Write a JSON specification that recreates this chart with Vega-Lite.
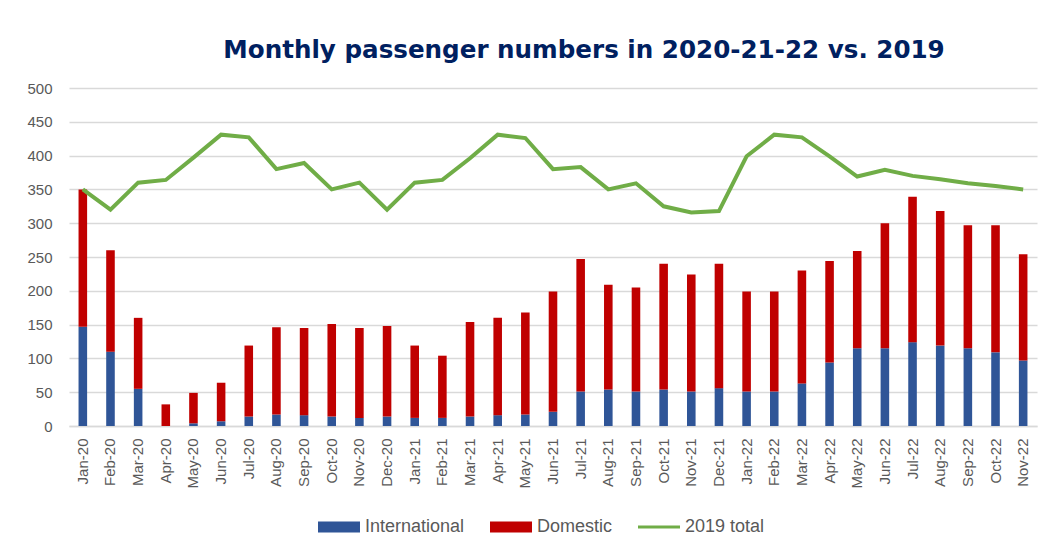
{
  "$schema": "https://vega.github.io/schema/vega-lite/v6.json",
  "autosize": {"type": "none"},
  "width": 968,
  "height": 338,
  "padding": {"left": 69, "top": 88, "right": 9, "bottom": 122},
  "background": "white",
  "title": {
    "text": "Monthly passenger numbers in 2020-21-22 vs. 2019",
    "font": "DejaVu Sans",
    "fontSize": 24.6,
    "fontWeight": "bold",
    "color": "#002060",
    "anchor": "middle",
    "dx": 31,
    "offset": 17
  },
  "config": {
    "view": {"stroke": null},
    "axis": {"labelFont": "Liberation Sans", "labelColor": "#595959", "titleFont": "Liberation Sans"},
    "axisY": {
      "values": [0, 50, 100, 150, 200, 250, 300, 350, 400, 450, 500],
      "labelOverlap": false,
      "labelFontSize": 15,
      "labelPadding": 17,
      "ticks": false,
      "domain": false,
      "gridColor": "#D9D9D9",
      "gridWidth": 1.5
    },
    "legend": {"labelFont": "Liberation Sans"}
  },
  "datasets": {
    "bars": [
      {"month": "Jan-20", "type": "International", "value": 147}, {"month": "Jan-20", "type": "Domestic", "value": 203},
      {"month": "Feb-20", "type": "International", "value": 110}, {"month": "Feb-20", "type": "Domestic", "value": 150},
      {"month": "Mar-20", "type": "International", "value": 55}, {"month": "Mar-20", "type": "Domestic", "value": 105},
      {"month": "Apr-20", "type": "International", "value": 0}, {"month": "Apr-20", "type": "Domestic", "value": 32},
      {"month": "May-20", "type": "International", "value": 4}, {"month": "May-20", "type": "Domestic", "value": 45},
      {"month": "Jun-20", "type": "International", "value": 7}, {"month": "Jun-20", "type": "Domestic", "value": 57},
      {"month": "Jul-20", "type": "International", "value": 14}, {"month": "Jul-20", "type": "Domestic", "value": 105},
      {"month": "Aug-20", "type": "International", "value": 17}, {"month": "Aug-20", "type": "Domestic", "value": 129},
      {"month": "Sep-20", "type": "International", "value": 16}, {"month": "Sep-20", "type": "Domestic", "value": 129},
      {"month": "Oct-20", "type": "International", "value": 14}, {"month": "Oct-20", "type": "Domestic", "value": 137},
      {"month": "Nov-20", "type": "International", "value": 12}, {"month": "Nov-20", "type": "Domestic", "value": 133},
      {"month": "Dec-20", "type": "International", "value": 14}, {"month": "Dec-20", "type": "Domestic", "value": 134},
      {"month": "Jan-21", "type": "International", "value": 12}, {"month": "Jan-21", "type": "Domestic", "value": 107},
      {"month": "Feb-21", "type": "International", "value": 12}, {"month": "Feb-21", "type": "Domestic", "value": 92},
      {"month": "Mar-21", "type": "International", "value": 14}, {"month": "Mar-21", "type": "Domestic", "value": 140},
      {"month": "Apr-21", "type": "International", "value": 16}, {"month": "Apr-21", "type": "Domestic", "value": 144},
      {"month": "May-21", "type": "International", "value": 17}, {"month": "May-21", "type": "Domestic", "value": 151},
      {"month": "Jun-21", "type": "International", "value": 21}, {"month": "Jun-21", "type": "Domestic", "value": 178},
      {"month": "Jul-21", "type": "International", "value": 51}, {"month": "Jul-21", "type": "Domestic", "value": 196},
      {"month": "Aug-21", "type": "International", "value": 54}, {"month": "Aug-21", "type": "Domestic", "value": 155},
      {"month": "Sep-21", "type": "International", "value": 51}, {"month": "Sep-21", "type": "Domestic", "value": 154},
      {"month": "Oct-21", "type": "International", "value": 54}, {"month": "Oct-21", "type": "Domestic", "value": 186},
      {"month": "Nov-21", "type": "International", "value": 51}, {"month": "Nov-21", "type": "Domestic", "value": 173},
      {"month": "Dec-21", "type": "International", "value": 56}, {"month": "Dec-21", "type": "Domestic", "value": 184},
      {"month": "Jan-22", "type": "International", "value": 51}, {"month": "Jan-22", "type": "Domestic", "value": 148},
      {"month": "Feb-22", "type": "International", "value": 51}, {"month": "Feb-22", "type": "Domestic", "value": 148},
      {"month": "Mar-22", "type": "International", "value": 63}, {"month": "Mar-22", "type": "Domestic", "value": 167},
      {"month": "Apr-22", "type": "International", "value": 94}, {"month": "Apr-22", "type": "Domestic", "value": 150},
      {"month": "May-22", "type": "International", "value": 115}, {"month": "May-22", "type": "Domestic", "value": 144},
      {"month": "Jun-22", "type": "International", "value": 115}, {"month": "Jun-22", "type": "Domestic", "value": 185},
      {"month": "Jul-22", "type": "International", "value": 124}, {"month": "Jul-22", "type": "Domestic", "value": 215},
      {"month": "Aug-22", "type": "International", "value": 119}, {"month": "Aug-22", "type": "Domestic", "value": 199},
      {"month": "Sep-22", "type": "International", "value": 115}, {"month": "Sep-22", "type": "Domestic", "value": 182},
      {"month": "Oct-22", "type": "International", "value": 109}, {"month": "Oct-22", "type": "Domestic", "value": 188},
      {"month": "Nov-22", "type": "International", "value": 97}, {"month": "Nov-22", "type": "Domestic", "value": 157}
    ],
    "line": [
      {"month": "Jan-20", "total2019": 350}, {"month": "Feb-20", "total2019": 320}, {"month": "Mar-20", "total2019": 360},
      {"month": "Apr-20", "total2019": 364}, {"month": "May-20", "total2019": 397}, {"month": "Jun-20", "total2019": 431},
      {"month": "Jul-20", "total2019": 427}, {"month": "Aug-20", "total2019": 380}, {"month": "Sep-20", "total2019": 389},
      {"month": "Oct-20", "total2019": 350}, {"month": "Nov-20", "total2019": 360}, {"month": "Dec-20", "total2019": 320},
      {"month": "Jan-21", "total2019": 360}, {"month": "Feb-21", "total2019": 364}, {"month": "Mar-21", "total2019": 396},
      {"month": "Apr-21", "total2019": 431}, {"month": "May-21", "total2019": 426}, {"month": "Jun-21", "total2019": 380},
      {"month": "Jul-21", "total2019": 383}, {"month": "Aug-21", "total2019": 350}, {"month": "Sep-21", "total2019": 359},
      {"month": "Oct-21", "total2019": 325}, {"month": "Nov-21", "total2019": 316}, {"month": "Dec-21", "total2019": 318},
      {"month": "Jan-22", "total2019": 399}, {"month": "Feb-22", "total2019": 431}, {"month": "Mar-22", "total2019": 427},
      {"month": "Apr-22", "total2019": 399}, {"month": "May-22", "total2019": 369}, {"month": "Jun-22", "total2019": 379},
      {"month": "Jul-22", "total2019": 370}, {"month": "Aug-22", "total2019": 365}, {"month": "Sep-22", "total2019": 359},
      {"month": "Oct-22", "total2019": 355}, {"month": "Nov-22", "total2019": 350}
    ]
  },
  "encoding": {
    "x": {
      "field": "month",
      "type": "nominal",
      "sort": null,
      "title": null,
      "scale": {"paddingInner": 0, "paddingOuter": 0},
      "axis": {
        "labelAngle": -90,
        "labelFontSize": 15,
        "labelPadding": 12,
        "ticks": false,
        "domain": true,
        "domainColor": "#D9D9D9",
        "domainWidth": 1.5,
        "grid": false
      }
    }
  },
  "layer": [
    {
      "data": {"name": "bars"},
      "mark": {"type": "bar", "width": {"band": 0.31}},
      "encoding": {
        "y": {
          "field": "value",
          "type": "quantitative",
          "stack": "zero",
          "title": null,
          "scale": {"domain": [0, 500]},
          "axis": {"values": [0, 50, 100, 150, 200, 250, 300, 350, 400, 450, 500], "labelOverlap": false}
        },
        "color": {
          "field": "type",
          "type": "nominal",
          "scale": {
            "domain": ["International", "Domestic", "2019 total"],
            "range": ["#2F5597", "#C00000", "#70AD47"]
          },
          "legend": {
            "title": null,
            "orient": "none",
            "direction": "horizontal",
            "legendX": 249,
            "legendY": 418,
            "labelFontSize": 18,
            "labelColor": "#595959",
            "labelOffset": 5,
            "columnPadding": 25,
            "symbolSize": 1764,
            "symbolType": "M-1,-0.26H1V0.26H-1Z",
            "encode": {
              "symbols": {
                "update": {
                  "shape": {"signal": "datum.value === '2019 total' ? 'M-1,-0.075H1V0.075H-1Z' : 'M-1,-0.26H1V0.26H-1Z'"},
                  "fill": {"signal": "datum.value === 'International' ? '#2F5597' : datum.value === 'Domestic' ? '#C00000' : '#70AD47'"},
                  "fillOpacity": {"value": 1},
                  "strokeWidth": {"value": 0}
                }
              }
            }
          }
        },
        "order": {"field": "type", "sort": "descending"}
      }
    },
    {
      "data": {"name": "line"},
      "mark": {"type": "line", "strokeWidth": 4, "strokeJoin": "miter"},
      "encoding": {
        "y": {
          "field": "total2019",
          "type": "quantitative",
          "title": null,
          "axis": {"values": [0, 50, 100, 150, 200, 250, 300, 350, 400, 450, 500], "labelOverlap": false}
        },
        "color": {"datum": "2019 total"}
      }
    }
  ]
}
